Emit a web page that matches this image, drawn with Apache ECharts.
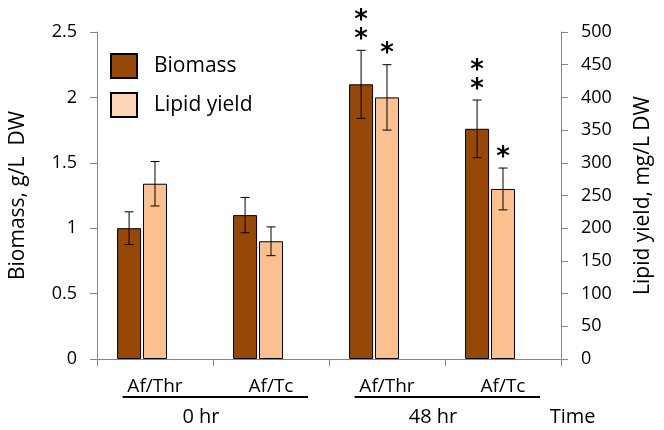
<!DOCTYPE html>
<html><head><meta charset="utf-8">
<script src="https://cdn.jsdelivr.net/npm/echarts@6/dist/echarts.min.js"></script>
<style>html,body{margin:0;padding:0;background:#fff}#c{width:664px;height:430px}</style>
</head><body><div id="c"></div>
<script>
// ---- data ----
const categories = ['Af/Thr', 'Af/Tc', 'Af/Thr', 'Af/Tc'];
const groupNames = ['0 hr', '48 hr'];
const groupFirst = [0, 2];
const groupLast = [1, 3];
const timeLabel = 'Time';
const biomass = [1.0, 1.1, 2.1, 1.76];
const biomassErr = [0.125, 0.135, 0.26, 0.22];
const biomassSig = ['', '', '**', '**'];
const lipid = [268, 180, 400, 260];
const lipidErr = [34, 22, 50, 32];
const lipidSig = ['', '', '*', '*'];
const spacer = [null, null, null, null];
const leftAxis = { min: 0, max: 2.5, interval: 0.5 };
const rightAxis = { min: 0, max: 500, interval: 50 };

// ---- style ----
const FONT = 'Open Sans';
const BIO_COLOR = '#974706';
const LIP_COLOR = '#FAC090';
const AXIS_GREY = '#868686';
const BW = 24, GAP_PCT = 8;
const GAP = BW * GAP_PCT / 100;

function errRenderer(vals, errs, sigs, slot) {
  return function (params, api) {
    const i = params.dataIndex;
    const v = vals[i], e = errs[i];
    const c = api.coord([i, v]);
    const t = api.coord([i, v + e]);
    const b = api.coord([i, v - e]);
    const x = c[0] + slot * (BW + GAP);
    const cap = 4.5;
    const ls = { stroke: '#000', lineWidth: 1 };
    const ch = [
      { type: 'line', shape: { x1: x, y1: t[1], x2: x, y2: b[1] }, style: ls },
      { type: 'line', shape: { x1: x - cap, y1: t[1], x2: x + cap, y2: t[1] }, style: ls },
      { type: 'line', shape: { x1: x - cap, y1: b[1], x2: x + cap, y2: b[1] }, style: ls }
    ];
    const s = sigs[i] || '';
    for (let k = 0; k < s.length; k++) {
      ch.push({
        type: 'text',
        style: {
          text: '*', x: x, y: t[1] - 17 - k * 19,
          align: 'center', verticalAlign: 'middle',
          font: 'bold 26px "DejaVu Sans"', fill: '#000'
        },
        position: [0, 7]
      });
    }
    return { type: 'group', children: ch };
  };
}

const chart = echarts.init(document.getElementById('c'), null, { renderer: 'canvas' });
const grid = { left: 96, right: 103, top: 32, bottom: 71 };

chart.setOption({
  animation: false,
  textStyle: { fontFamily: FONT },
  grid: grid,
  legend: {
    orient: 'vertical', left: 105, top: 48,
    itemWidth: 26, itemHeight: 24, itemGap: 13,
    icon: 'rect',
    textStyle: { fontFamily: FONT, fontSize: 21, color: '#000', padding: [0, 0, 0, 12] },
    data: [
      { name: 'Biomass' },
      { name: 'Lipid yield', itemStyle: { color: '#FCD5B4' } }
    ]
  },
  xAxis: {
    type: 'category', data: categories,
    axisLine: { lineStyle: { color: AXIS_GREY, width: 1 } },
    axisTick: { show: true, length: 7, lineStyle: { color: AXIS_GREY } },
    axisLabel: { color: '#000', fontSize: 19, fontFamily: FONT, margin: 18 }
  },
  yAxis: [
    {
      type: 'value', min: leftAxis.min, max: leftAxis.max, interval: leftAxis.interval,
      position: 'left',
      name: 'Biomass, g/L  DW', nameLocation: 'middle', nameGap: 68, nameRotate: 90,
      nameTextStyle: { fontSize: 21, color: '#000', fontFamily: FONT },
      axisLine: { show: true, lineStyle: { color: AXIS_GREY } },
      axisTick: { show: true, length: 7, lineStyle: { color: AXIS_GREY } },
      axisLabel: { color: '#000', fontSize: 18, margin: 20, fontFamily: FONT },
      splitLine: { show: false }
    },
    {
      type: 'value', min: rightAxis.min, max: rightAxis.max, interval: rightAxis.interval,
      position: 'right',
      name: 'Lipid yield, mg/L DW', nameLocation: 'middle', nameGap: 72, nameRotate: 90,
      nameTextStyle: { fontSize: 21, color: '#000', fontFamily: FONT },
      axisLine: { show: true, lineStyle: { color: AXIS_GREY } },
      axisTick: { show: true, length: 7, lineStyle: { color: AXIS_GREY } },
      axisLabel: { color: '#000', fontSize: 18, margin: 20, fontFamily: FONT },
      splitLine: { show: false }
    }
  ],
  series: [
    {
      name: 'Biomass', type: 'bar', yAxisIndex: 0, data: biomass,
      barWidth: BW, barGap: GAP_PCT + '%',
      itemStyle: { color: BIO_COLOR, borderColor: '#000', borderWidth: 1 }
    },
    {
      name: 'Lipid yield', type: 'bar', yAxisIndex: 1, data: lipid,
      barWidth: BW, barGap: GAP_PCT + '%',
      itemStyle: { color: LIP_COLOR, borderColor: '#000', borderWidth: 1 }
    },
    {
      name: 'spacer', type: 'bar', yAxisIndex: 0, data: spacer,
      barWidth: BW, barGap: GAP_PCT + '%', silent: true
    },
    {
      type: 'custom', yAxisIndex: 0, data: biomass.map((v, i) => [i, v]),
      renderItem: errRenderer(biomass, biomassErr, biomassSig, -1), z: 5
    },
    {
      type: 'custom', yAxisIndex: 1, data: lipid.map((v, i) => [i, v]),
      renderItem: errRenderer(lipid, lipidErr, lipidSig, 0), z: 5
    }
  ]
});

// group labels + underlines positioned from the category axis
function catX(i) { return chart.convertToPixel({ xAxisIndex: 0 }, i); }
const band = catX(1) - catX(0);
const lineY = 397, groupY = 417;
const gfx = [];
for (let g = 0; g < groupNames.length; g++) {
  const x0 = catX(groupFirst[g]) - 0.28 * band;
  const x1 = catX(groupLast[g]) + 0.32 * band;
  gfx.push({ type: 'line', shape: { x1: x0, y1: lineY, x2: x1, y2: lineY },
    style: { stroke: '#000', lineWidth: 2 } });
  gfx.push({ type: 'text', style: {
    text: groupNames[g], x: (catX(groupFirst[g]) + catX(groupLast[g])) / 2 - 12, y: groupY,
    align: 'center', verticalAlign: 'middle', font: '20px "Open Sans"', fill: '#000' } });
}
gfx.push({ type: 'text', style: {
  text: timeLabel, x: catX(categories.length - 1) + 0.6 * band, y: groupY,
  align: 'center', verticalAlign: 'middle', font: '20px "Open Sans"', fill: '#000' } });
chart.setOption({ graphic: gfx });
</script>
</body></html>
